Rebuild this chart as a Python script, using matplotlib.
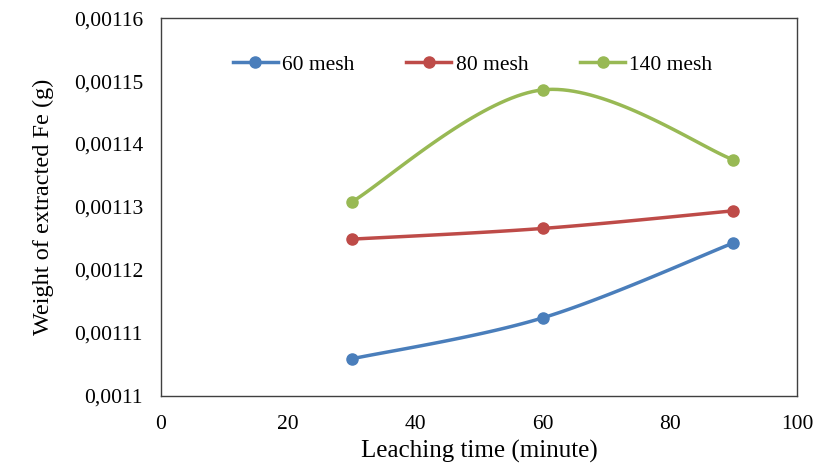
import numpy as np
import matplotlib
matplotlib.use("Agg")
import matplotlib.pyplot as plt
from matplotlib.ticker import FuncFormatter

time = [30, 60, 90]
mesh60 = [0.0011059, 0.0011124, 0.0011243]
mesh80 = [0.0011249, 0.0011266, 0.0011294]
mesh140 = [0.0011308, 0.0011486, 0.0011375]
labels = ["60 mesh", "80 mesh", "140 mesh"]
colors = ["#4a7ebb", "#be4b48", "#98b954"]

plt.rcParams['font.family'] = ['Liberation Serif', 'DejaVu Serif']


def smooth(x, y, n=40):
    x = np.asarray(x, float)
    y = np.asarray(y, float)
    px = np.concatenate([[x[0]], x, [x[-1]]])
    py = np.concatenate([[y[0]], y, [y[-1]]])
    xs, ys = [], []
    t = np.linspace(0, 1, n)
    for i in range(1, len(px) - 2):
        p0 = np.array([px[i - 1], py[i - 1]])
        p1 = np.array([px[i], py[i]])
        p2 = np.array([px[i + 1], py[i + 1]])
        p3 = np.array([px[i + 2], py[i + 2]])
        c1 = p1 + (p2 - p0) / 6
        c2 = p2 - (p3 - p1) / 6
        b = ((1 - t) ** 3)[:, None] * p1 + (3 * (1 - t) ** 2 * t)[:, None] * c1 \
            + (3 * (1 - t) * t ** 2)[:, None] * c2 + (t ** 3)[:, None] * p2
        xs.extend(b[:, 0])
        ys.extend(b[:, 1])
    return xs, ys


fig = plt.figure(figsize=(8.17, 4.63), dpi=100)
ax = fig.add_axes([0.197, 0.1447, 0.7785, 0.8163])

for ys, lab, c in zip([mesh60, mesh80, mesh140], labels, colors):
    sx, sy = smooth(time, ys)
    ax.plot(sx, sy, color=c, lw=2.5)
    ax.plot(time, ys, 'o', color=c, ms=8)
    ax.plot([], [], '-o', color=c, lw=2.5, ms=8, label=lab)

ax.set_xlim(0, 100)
ax.set_ylim(0.0011, 0.00116)
ax.set_xticks(range(0, 101, 20))
ax.set_yticks(np.arange(0.0011, 0.001160001, 0.00001))
ax.yaxis.set_major_formatter(FuncFormatter(lambda v, p: ("%.5f" % v).rstrip('0').replace('.', ',')))
ax.tick_params(length=0, labelsize=15.5)
ax.tick_params(axis='x', pad=14)
ax.tick_params(axis='y', pad=13)
for s in ax.spines.values():
    s.set_color('#404040')
    s.set_linewidth(1.0)
ax.set_xlabel("Leaching time (minute)", fontsize=18, labelpad=4)
ax.set_ylabel("Weight of extracted Fe (g)", fontsize=17.5, labelpad=14)
ax.legend(loc='upper center', bbox_to_anchor=(0.49, 0.955), ncol=3, frameon=False,
          fontsize=15.5, handlelength=2.1, columnspacing=2.4, handletextpad=0.2)

fig.savefig("out.png", dpi=100)
